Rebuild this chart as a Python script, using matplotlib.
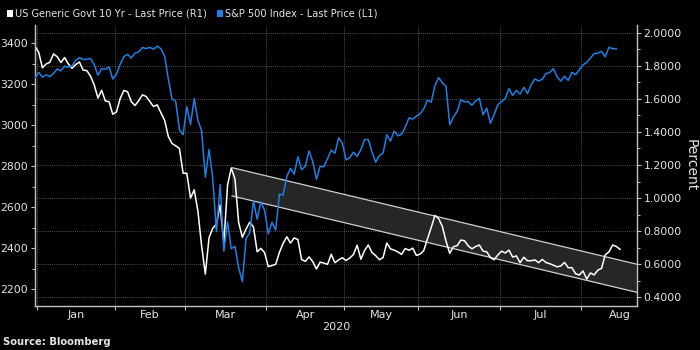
import matplotlib
matplotlib.use("Agg")
import matplotlib.pyplot as plt
import numpy as np
import pandas as pd
from matplotlib.patches import Rectangle, Polygon
from matplotlib.ticker import MultipleLocator, FormatStrFormatter

# ---------------- data ----------------
start_date = "2019-12-31"
calendar_end = "2020-08-31"
holidays = ["2020-01-01", "2020-01-20", "2020-02-17", "2020-04-10", "2020-05-25", "2020-07-03"]
months = ["Jan", "Feb", "Mar", "Apr", "May", "Jun", "Jul", "Aug"]
year_label = "2020"

sp500 = [3230.78,
         3257.85, 3234.85, 3246.28, 3237.18, 3253.05, 3274.70, 3265.35, 3288.13, 3283.15, 3289.29,
         3316.81, 3329.62, 3320.79, 3321.75, 3325.54, 3295.47, 3243.63, 3276.24, 3273.40, 3283.66, 3225.52,
         3248.92, 3297.59, 3334.69, 3345.78, 3327.71, 3352.09, 3357.75, 3379.45, 3373.94, 3380.16,
         3370.29, 3386.15, 3373.23, 3337.75, 3225.89, 3128.21, 3116.39, 2978.76, 2954.22,
         3090.23, 3003.37, 3130.12, 3023.94, 2972.37, 2746.56, 2882.23, 2741.38, 2480.64, 2711.02,
         2386.13, 2529.19, 2398.10, 2409.39, 2304.92, 2237.40, 2447.33, 2475.56, 2630.07, 2541.47, 2626.65, 2584.59,
         2470.50, 2526.90, 2488.65, 2663.68, 2659.41, 2749.98, 2789.82, 2761.63, 2846.06, 2783.36,
         2799.55, 2874.56, 2823.16, 2736.56, 2799.31, 2797.80, 2836.74, 2878.48, 2863.39, 2939.51, 2912.43,
         2830.71, 2842.74, 2868.44, 2848.42, 2881.19, 2929.80, 2930.32, 2870.12, 2820.00, 2852.50,
         2863.70, 2953.91, 2922.94, 2971.61, 2948.51, 2955.45, 2991.77, 3036.13, 3029.73, 3044.31,
         3055.73, 3080.82, 3122.87, 3112.35, 3193.93, 3232.39, 3207.18, 3190.14, 3002.10, 3041.31, 3066.59,
         3124.74, 3113.49, 3115.34, 3097.74, 3117.86, 3131.29, 3050.33, 3083.76, 3009.05, 3053.24, 3100.29,
         3115.86, 3130.01, 3179.72, 3145.32, 3169.94, 3152.05, 3185.04, 3155.22, 3197.52, 3226.56, 3215.57,
         3224.73, 3251.84, 3257.30, 3276.02, 3235.66, 3215.63, 3239.41, 3218.44, 3258.44, 3246.22, 3271.12,
         3294.61, 3306.51, 3327.77, 3349.16, 3351.28, 3360.47, 3333.69, 3380.35, 3373.43, 3372.85]

ust10 = [1.918,
         1.882, 1.788, 1.811, 1.821, 1.872, 1.855, 1.820, 1.850, 1.811, 1.785,
         1.808, 1.823, 1.774, 1.771, 1.737, 1.684, 1.605, 1.652, 1.587, 1.583, 1.507,
         1.521, 1.602, 1.651, 1.643, 1.583, 1.560, 1.589, 1.624, 1.615, 1.585,
         1.554, 1.564, 1.516, 1.471, 1.373, 1.330, 1.316, 1.300, 1.150,
         1.150, 1.000, 1.050, 0.920, 0.710, 0.540, 0.760, 0.817, 0.843, 0.958,
         0.726, 1.079, 1.181, 1.116, 0.852, 0.763, 0.813, 0.854, 0.825, 0.675, 0.696, 0.670,
         0.585, 0.592, 0.599, 0.671, 0.726, 0.766, 0.728, 0.759, 0.749, 0.628,
         0.617, 0.644, 0.616, 0.571, 0.612, 0.607, 0.599, 0.660, 0.609, 0.626, 0.639,
         0.622, 0.637, 0.659, 0.715, 0.630, 0.683, 0.716, 0.671, 0.652, 0.627,
         0.640, 0.728, 0.693, 0.685, 0.674, 0.660, 0.695, 0.684, 0.697, 0.653,
         0.661, 0.683, 0.754, 0.822, 0.895, 0.876, 0.829, 0.739, 0.666, 0.706, 0.712,
         0.746, 0.742, 0.711, 0.693, 0.707, 0.716, 0.679, 0.675, 0.640, 0.627, 0.656,
         0.679, 0.668, 0.685, 0.643, 0.650, 0.609, 0.642, 0.621, 0.621, 0.626, 0.609,
         0.629, 0.610, 0.603, 0.594, 0.584, 0.589, 0.611, 0.579, 0.579, 0.542, 0.535,
         0.559, 0.510, 0.547, 0.535, 0.564, 0.575, 0.657, 0.674, 0.716, 0.707, 0.690]

# trend channel drawn on the chart (trading-day index, percent)
channel_x = [53.2, 162.5]
channel_upper = [1.184, 0.600]
channel_lower = [1.013, 0.430]

legend_labels = ["US Generic Govt 10 Yr - Last Price (R1)", "S&P 500 Index - Last Price (L1)"]

# ---------------- styling ----------------
BG = "black"
TXT = "#e4e4e4"
GRID = "#6a6a6a"
SPINE = "#bdbdbd"
BLUE = "#1f7fe3"
WHITE = "#ffffff"

cal = pd.bdate_range(start_date, calendar_end, freq="C", holidays=holidays)
idx = np.arange(len(cal))
x_sp = idx[:len(sp500)]
x_ust = idx[:len(ust10)]

bounds, mids = [], []
for m in range(1, len(months) + 1):
    sel = idx[(cal.year == 2020) & (cal.month == m)]
    bounds.append(sel[0] - 0.5)
    mids.append(sel.mean())

fig = plt.figure(figsize=(7, 3.5), dpi=100, facecolor=BG)
ax = fig.add_axes([0.05, 0.1266, 0.8596, 0.802])
ax.set_facecolor(BG)
ax2 = ax.twinx()
ax.yaxis.tick_right()
ax.yaxis.set_label_position("right")
ax2.yaxis.tick_left()
ax2.yaxis.set_label_position("left")

# channel
poly = Polygon([[channel_x[0], channel_upper[0]], [channel_x[1], channel_upper[1]],
                [channel_x[1], channel_lower[1]], [channel_x[0], channel_lower[0]]],
               closed=True, facecolor="#262626", edgecolor="none", zorder=1)
ax.add_patch(poly)
ax.plot(channel_x, channel_upper, color="#d0d0d0", lw=0.9, zorder=2)
ax.plot(channel_x, channel_lower, color="#d0d0d0", lw=0.9, zorder=2)

ax.plot(x_ust, ust10, color=WHITE, lw=1.1, zorder=3)
ax2.plot(x_sp, sp500, color=BLUE, lw=1.1, zorder=3)

ax.set_xlim(0, 162.5)
ax.set_ylim(0.349, 2.047)
ax2.set_ylim(2120, 3489)

# right axis (percent)
ax.set_yticks(np.arange(0.4, 2.01, 0.2))
ax.yaxis.set_major_formatter(FormatStrFormatter("%.4f"))
ax.yaxis.set_minor_locator(MultipleLocator(0.1))
ax.tick_params(axis="y", which="major", length=3, width=0.8, color=SPINE,
               labelcolor=TXT, labelsize=7.8, pad=2)
ax.tick_params(axis="y", which="minor", length=2, width=0.7, color=SPINE)

# left axis (S&P)
ax2.set_yticks(np.arange(2200, 3401, 200))
ax2.yaxis.set_minor_locator(MultipleLocator(100))
ax2.tick_params(axis="y", which="major", length=3, width=0.8, color=SPINE,
                labelcolor=TXT, labelsize=7.8, pad=2)
ax2.tick_params(axis="y", which="minor", length=2, width=0.7, color=SPINE)

# x axis
ax.set_xticks(bounds)
ax.set_xticklabels([])
ax.set_xticks(mids, minor=True)
ax.set_xticklabels(months, minor=True)
ax.tick_params(axis="x", which="major", length=3, width=0.8, color=SPINE)
ax.tick_params(axis="x", which="minor", length=0, pad=3, labelsize=8, labelcolor=TXT)
ax.set_xlabel(year_label, color=TXT, fontsize=8, labelpad=1.5)

ax.grid(True, which="major", color=GRID, linestyle=(0, (1, 1.5)), lw=0.6)
ax.set_axisbelow(True)

for a in (ax, ax2):
    a.spines["top"].set_visible(False)
    for s in ("left", "right", "bottom"):
        a.spines[s].set_color(SPINE)
        a.spines[s].set_linewidth(0.9)

fig.text(690.7 / 700, 1 - 165 / 350, "Percent", rotation=270, ha="center", va="center",
         fontsize=10, color=TXT)

# legend
fig.add_artist(Rectangle((6.7 / 700, 1 - 16.7 / 350), 6.6 / 700, 6.7 / 350,
                         transform=fig.transFigure, facecolor=WHITE, edgecolor="none"))
fig.text(15 / 700, 1 - 13.7 / 350, legend_labels[0], ha="left", va="center",
         fontsize=7.1, color=TXT)
fig.add_artist(Rectangle((216.7 / 700, 1 - 16.7 / 350), 6.6 / 700, 6.7 / 350,
                         transform=fig.transFigure, facecolor=BLUE, edgecolor="none"))
fig.text(224.7 / 700, 1 - 13.7 / 350, legend_labels[1], ha="left", va="center",
         fontsize=7.1, color=TXT)

fig.text(3 / 700, 1 - 341.7 / 350, "Source: Bloomberg", ha="left", va="center",
         fontsize=7.2, fontweight="bold", color=TXT)

fig.savefig("out.png", dpi=100, facecolor=BG)
